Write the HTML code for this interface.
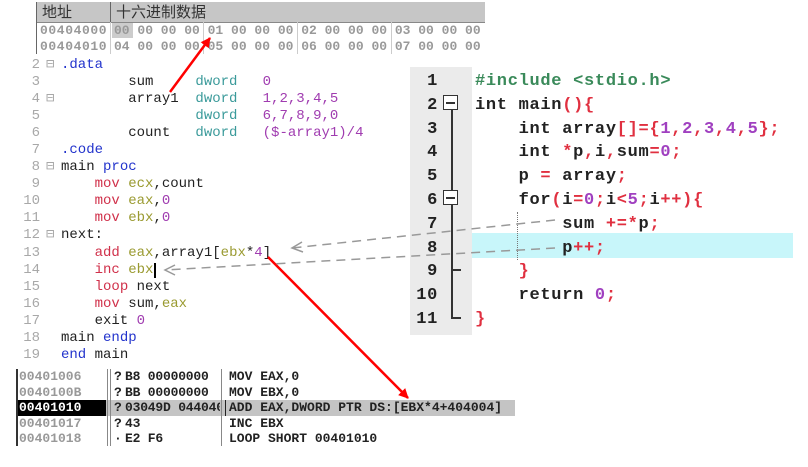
<!DOCTYPE html>
<html><head><meta charset="utf-8"><style>
body{margin:0;width:808px;height:467px;background:#fff;position:relative;overflow:hidden;font-family:"Liberation Mono",monospace}
.a{position:absolute;white-space:pre}
.ln{color:#a8a8a8;font-size:14px}
.c{font-size:14px;color:#222}
.bl{color:#2233cc}.tl{color:#3a9a9a}.pu{color:#a03cb0}.rd{color:#d0304a}.ol{color:#9a9a30}
.r{font-size:17px;font-weight:bold;color:#222;letter-spacing:0.7px}
.rr{color:#e03040}.rp{color:#a040c0}.gr{color:#3a8a5a}
.d{font-size:13px;font-weight:bold;color:#222}
.hx{font-size:13px;font-weight:bold;color:#999}
</style></head><body>
<!-- hex table -->
<div class="a" style="left:36px;top:2px;width:449px;height:20px;background:#c6c6c6;border-bottom:1px solid #888"></div>
<div class="a" style="left:36px;top:2px;width:1px;height:52px;background:#666"></div>
<div class="a" style="left:110px;top:2px;width:1px;height:20px;background:#666"></div>
<div class="a" style="left:110px;top:22px;width:1px;height:32px;background:#ccc"></div>
<div class="a" style="left:203px;top:22px;width:1px;height:32px;background:#ccc"></div>
<div class="a" style="left:297px;top:22px;width:1px;height:32px;background:#ccc"></div>
<div class="a" style="left:391px;top:22px;width:1px;height:32px;background:#ccc"></div>
<div class="a" style="left:112px;top:23px;width:21px;height:15px;background:#ccc"></div>
<div class="a" style="left:42px;top:1px;font-family:'Noto Sans CJK SC',sans-serif;font-size:15px;color:#333">地址</div>
<div class="a" style="left:116px;top:1px;font-family:'Noto Sans CJK SC',sans-serif;font-size:15px;color:#333">十六进制数据</div>
<div class="a hx" style="left:40px;top:23px;letter-spacing:0.6px">00404000</div>
<div class="a hx" style="left:40px;top:39px;letter-spacing:0.6px">00404010</div>
<div class="a hx" style="left:114px;top:23px">00 00 00 00 01 00 00 00 02 00 00 00 03 00 00 00</div>
<div class="a hx" style="left:114px;top:39px">04 00 00 00 05 00 00 00 06 00 00 00 07 00 00 00</div>
<!-- asm -->
<div class="a ln" style="left:18px;top:57px;line-height:17.05px;text-align:right;width:22px">2
3
4
5
6
7
8
9
10
11
12
13
14
15
16
17
18
19</div>
<div class="a ln" style="left:46px;top:57px;line-height:17.05px">⊟

⊟



⊟



⊟</div>
<div class="a c" style="left:61px;top:57px;line-height:17.05px"><span class="bl">.data</span>
        sum     <span class="tl">dword</span>   <span class="pu">0</span>
        array1  <span class="tl">dword</span>   <span class="pu">1,2,3,4,5</span>
                <span class="tl">dword</span>   <span class="pu">6,7,8,9,0</span>
        count   <span class="tl">dword</span>   <span class="pu">($-array1)/4</span>
<span class="bl">.code</span>
main <span class="bl">proc</span>
    <span class="rd">mov</span> <span class="ol">ecx</span>,count
    <span class="rd">mov</span> <span class="ol">eax</span>,<span class="pu">0</span>
    <span class="rd">mov</span> <span class="ol">ebx</span>,<span class="pu">0</span>
next:
    <span class="rd">add</span> <span class="ol">eax</span>,array1[<span class="ol">ebx</span>*<span class="pu">4</span>]
    <span class="rd">inc</span> <span class="ol">ebx</span>
    <span class="rd">loop</span> next
    <span class="rd">mov</span> sum,<span class="ol">eax</span>
    exit <span class="pu">0</span>
main <span class="bl">endp</span>
<span class="bl">end</span> main</div>
<div class="a" style="left:154px;top:263px;width:2px;height:15px;background:#000"></div>
<!-- right C panel -->
<div class="a" style="left:410px;top:67px;width:62px;height:268px;background:#ebebeb"></div>
<div class="a" style="left:472px;top:233px;width:321px;height:25px;background:#c8f6fa"></div>
<div class="a" style="left:451px;top:104px;width:2px;height:214px;background:#333"></div>
<div class="a" style="left:451px;top:317px;width:10px;height:2px;background:#333"></div>
<div class="a" style="left:451px;top:269px;width:10px;height:2px;background:#333"></div>
<div class="a" style="left:443px;top:95px;width:15px;height:15px;border:1.5px solid #333;background:#fff;box-sizing:border-box"></div>
<div class="a" style="left:446px;top:102px;width:9px;height:2px;background:#333"></div>
<div class="a" style="left:443px;top:190px;width:15px;height:15px;border:1.5px solid #333;background:#fff;box-sizing:border-box"></div>
<div class="a" style="left:446px;top:197px;width:9px;height:2px;background:#333"></div>
<div class="a" style="left:517px;top:212px;border-left:1px dotted #777;height:48px"></div>
<div class="a r" style="left:410px;top:70px;line-height:23.8px;width:28px;text-align:right">1
2
3
4
5
6
7
8
9
10
11</div>
<div class="a r" style="left:475px;top:70px;line-height:23.8px"><span class="gr">#include &lt;stdio.h&gt;</span>
int main<span class="rr">(){</span>
    int array<span class="rr">[]={</span><span class="rp">1</span><span class="rr">,</span><span class="rp">2</span><span class="rr">,</span><span class="rp">3</span><span class="rr">,</span><span class="rp">4</span><span class="rr">,</span><span class="rp">5</span><span class="rr">};</span>
    int <span class="rr">*</span>p<span class="rr">,</span>i<span class="rr">,</span>sum<span class="rr">=</span><span class="rp">0</span><span class="rr">;</span>
    p <span class="rr">=</span> array<span class="rr">;</span>
    for<span class="rr">(</span>i<span class="rr">=</span><span class="rp">0</span><span class="rr">;</span>i<span class="rr">&lt;</span><span class="rp">5</span><span class="rr">;</span>i<span class="rr">++){</span>
        sum <span class="rr">+=*</span>p<span class="rr">;</span>
        p<span class="rr">++;</span>
    <span class="rr">}</span>
    return <span class="rp">0</span><span class="rr">;</span>
<span class="rr">}</span></div>
<!-- disassembly -->
<div class="a" style="left:17px;top:400px;width:498px;height:16px;background:#c4c4c4"></div>
<div class="a" style="left:17px;top:400px;width:89px;height:16px;background:#000"></div>
<div class="a" style="left:16px;top:369px;width:2px;height:77px;background:#333"></div>
<div class="a" style="left:107px;top:369px;width:1px;height:77px;background:#888"></div>
<div class="a" style="left:110px;top:369px;width:1px;height:77px;background:#888"></div>
<div class="a" style="left:221px;top:369px;width:1px;height:77px;background:#888"></div>
<div class="a" style="left:225px;top:400px;width:1px;height:16px;background:#222"></div>
<div class="a d" style="left:19px;top:369px;line-height:15.6px;color:#999">00401006
0040100B
<span style="color:#fff">00401010</span>
00401017
00401018</div>
<div class="a d" style="left:114px;top:369px;line-height:15.6px">?
?
?
?
·</div>
<div class="a" style="left:125px;top:369px;width:95px;height:80px;overflow:hidden"><div class="a d" style="left:0;top:0;line-height:15.6px;letter-spacing:-0.2px">B8 00000000
BB 00000000
03049D 044040
43
E2 F6</div></div>
<div class="a d" style="left:229px;top:369px;line-height:15.6px">MOV EAX,0
MOV EBX,0
ADD EAX,DWORD PTR DS:[EBX*4+404004]
INC EBX
LOOP SHORT 00401010</div>
<!-- arrows -->
<svg class="a" style="left:0;top:0" width="808" height="467">
<defs>
<marker id="rh" markerWidth="10" markerHeight="10" refX="9" refY="5" orient="auto" markerUnits="userSpaceOnUse"><path d="M0,0 L10,5 L0,10 z" fill="#f00"/></marker>
</defs>
<line x1="170" y1="92" x2="210" y2="38" stroke="#f00" stroke-width="2.5" marker-end="url(#rh)"/>
<line x1="268" y1="257" x2="408" y2="398" stroke="#f00" stroke-width="2.5" marker-end="url(#rh)"/>
<g stroke="#999" stroke-width="1.5" fill="none">
<line x1="555" y1="220" x2="292" y2="248" stroke-dasharray="9,6"/>
<polyline points="302,242 292,248 303,252"/>
<line x1="555" y1="248" x2="165" y2="270" stroke-dasharray="9,6"/>
<polyline points="175,265 165,270 175,275"/>
</g>
</svg>
</body></html>
